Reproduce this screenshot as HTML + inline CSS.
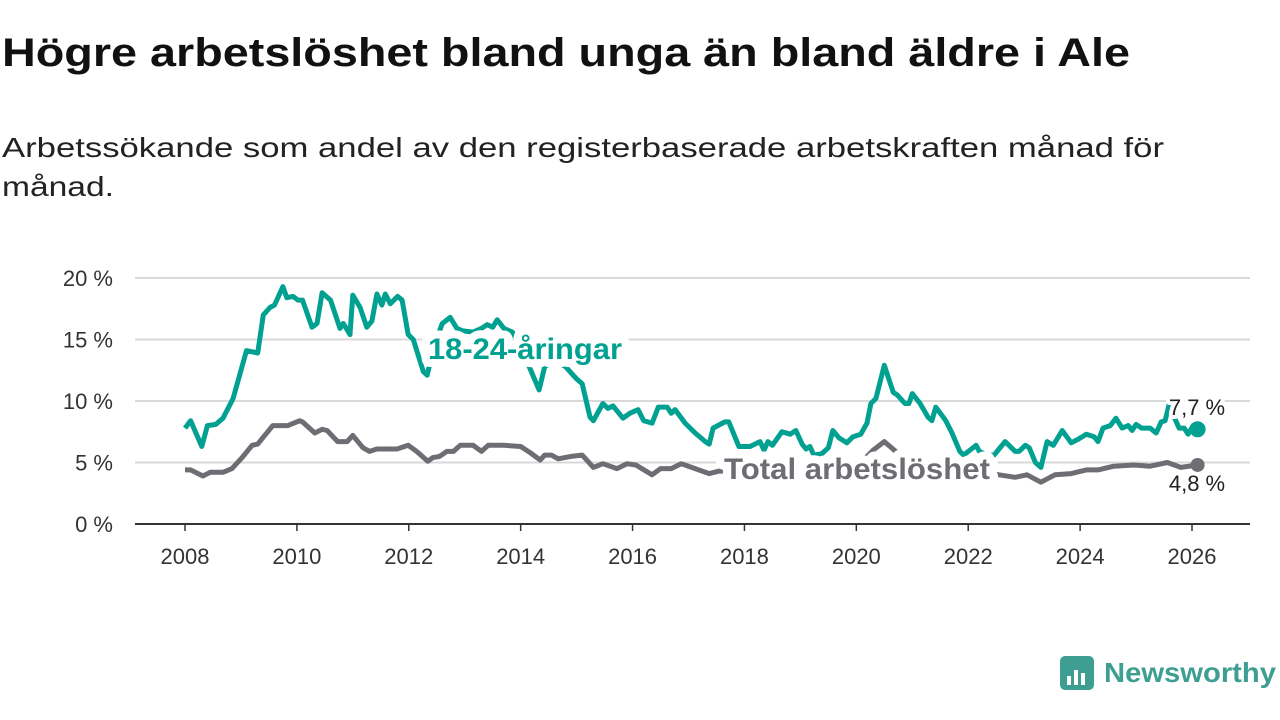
<!DOCTYPE html>
<html><head><meta charset="utf-8">
<style>
html,body{margin:0;padding:0;background:#fff;width:1280px;height:720px;overflow:hidden;font-family:"Liberation Sans",sans-serif}
svg{display:block}
</style></head>
<body>
<svg width="1280" height="720" viewBox="0 0 1280 720" id="chart">
<text x="2" y="66" font-size="40" font-weight="bold" fill="#111" textLength="1128" lengthAdjust="spacingAndGlyphs">Högre arbetslöshet bland unga än bland äldre i Ale</text>
<text x="2" y="157" font-size="28" fill="#222" textLength="1162" lengthAdjust="spacingAndGlyphs">Arbetssökande som andel av den registerbaserade arbetskraften månad för</text>
<text x="2" y="196" font-size="28" fill="#222" textLength="112" lengthAdjust="spacingAndGlyphs">månad.</text>
<g id="grid"></g><g id="axes"></g><g id="lines"></g><g id="labels"></g>
<g>
<rect x="1060" y="656" width="34" height="34" rx="5" fill="#3e9e91"/>
<rect x="1067" y="676" width="4" height="9" fill="#fff"/><rect x="1074" y="670" width="4" height="15" fill="#fff"/><rect x="1081" y="673" width="4" height="12" fill="#fff"/>
<text x="1104" y="682" font-size="28" fill="#3e9e91" font-weight="bold" textLength="172" lengthAdjust="spacingAndGlyphs">Newsworthy</text>
</g>
</svg>
<script>
const yTicks=[0,5,10,15,20];
const yTickLabels=["0 %","5 %","10 %","15 %","20 %"];
const xTicks=[2008,2010,2012,2014,2016,2018,2020,2022,2024,2026];
const youthDates=[2008.0,2008.1,2008.3,2008.4,2008.55,2008.68,2008.86,2009.1,2009.3,2009.4,2009.52,2009.6,2009.75,2009.82,2009.93,2010.02,2010.1,2010.27,2010.36,2010.45,2010.6,2010.77,2010.83,2010.95,2011.0,2011.13,2011.25,2011.34,2011.43,2011.52,2011.58,2011.67,2011.8,2011.88,2011.99,2012.08,2012.26,2012.33,2012.45,2012.6,2012.74,2012.86,2012.97,2013.15,2013.3,2013.4,2013.5,2013.58,2013.7,2013.85,2014.0,2014.17,2014.33,2014.43,2014.6,2014.8,2015.0,2015.1,2015.24,2015.3,2015.47,2015.56,2015.65,2015.83,2015.95,2016.1,2016.2,2016.35,2016.46,2016.62,2016.69,2016.76,2016.94,2017.12,2017.3,2017.37,2017.44,2017.65,2017.72,2017.9,2018.1,2018.28,2018.35,2018.42,2018.5,2018.67,2018.82,2018.92,2019.03,2019.1,2019.17,2019.24,2019.38,2019.5,2019.58,2019.69,2019.83,2019.94,2020.08,2020.19,2020.26,2020.35,2020.5,2020.66,2020.73,2020.87,2020.94,2021.0,2021.14,2021.28,2021.35,2021.42,2021.6,2021.71,2021.85,2021.92,2022.14,2022.2,2022.33,2022.46,2022.66,2022.84,2022.91,2023.02,2023.09,2023.2,2023.3,2023.41,2023.52,2023.68,2023.84,2023.97,2024.11,2024.25,2024.32,2024.41,2024.54,2024.64,2024.75,2024.86,2024.93,2025.0,2025.1,2025.25,2025.36,2025.45,2025.52,2025.59,2025.7,2025.77,2025.86,2025.93,2026.02,2026.1];
const youthValues=[7.8,8.4,6.3,8.0,8.1,8.6,10.2,14.1,13.9,17.0,17.6,17.8,19.3,18.4,18.5,18.2,18.2,16.0,16.3,18.8,18.2,15.9,16.3,15.4,18.6,17.6,16.0,16.5,18.7,17.8,18.7,17.9,18.5,18.2,15.4,15.0,12.4,12.1,14.5,16.3,16.8,15.9,15.7,15.6,15.9,16.2,16.0,16.6,15.9,15.6,14.5,12.6,10.9,12.8,13.3,12.8,11.8,11.4,8.7,8.4,9.8,9.4,9.6,8.6,9.0,9.3,8.4,8.2,9.5,9.5,9.0,9.3,8.2,7.4,6.7,6.5,7.8,8.3,8.3,6.3,6.3,6.7,6.0,6.7,6.4,7.5,7.3,7.6,6.5,6.1,6.3,5.6,5.7,6.2,7.6,7.0,6.6,7.1,7.3,8.2,9.8,10.2,12.9,10.7,10.5,9.8,9.8,10.6,9.8,8.7,8.4,9.5,8.4,7.4,5.9,5.6,6.4,5.9,5.6,5.6,6.7,5.9,5.9,6.4,6.2,5.0,4.6,6.7,6.4,7.6,6.6,6.9,7.3,7.1,6.7,7.8,8.0,8.6,7.8,8.0,7.6,8.1,7.8,7.8,7.4,8.3,8.4,9.7,8.5,7.8,7.8,7.3,8.0,7.7];
const totalDates=[2008.0,2008.1,2008.32,2008.45,2008.68,2008.84,2009.02,2009.2,2009.3,2009.57,2009.84,2010.05,2010.1,2010.32,2010.45,2010.54,2010.73,2010.9,2011.0,2011.18,2011.3,2011.43,2011.79,2011.99,2012.14,2012.34,2012.43,2012.55,2012.68,2012.8,2012.92,2013.15,2013.3,2013.42,2013.7,2014.0,2014.17,2014.35,2014.43,2014.55,2014.67,2014.9,2015.1,2015.3,2015.47,2015.72,2015.9,2016.06,2016.35,2016.5,2016.69,2016.87,2017.12,2017.37,2017.55,2017.8,2018.1,2018.5,2018.9,2019.3,2019.7,2020.0,2020.3,2020.5,2020.73,2020.95,2021.3,2021.6,2021.9,2022.2,2022.55,2022.84,2023.05,2023.3,2023.55,2023.84,2024.11,2024.32,2024.6,2024.96,2025.25,2025.56,2025.8,2026.1];
const totalValues=[4.4,4.4,3.9,4.2,4.2,4.5,5.4,6.4,6.5,8.0,8.0,8.4,8.3,7.4,7.7,7.6,6.7,6.7,7.2,6.2,5.9,6.1,6.1,6.4,5.9,5.1,5.4,5.5,5.9,5.9,6.4,6.4,5.9,6.4,6.4,6.3,5.8,5.2,5.6,5.6,5.3,5.5,5.6,4.6,4.9,4.5,4.9,4.8,4.0,4.5,4.5,4.9,4.5,4.1,4.3,4.3,4.2,4.4,4.2,4.0,4.3,4.6,6.0,6.7,5.8,5.6,5.3,5.0,4.6,4.3,4.0,3.8,4.0,3.4,4.0,4.1,4.4,4.4,4.7,4.8,4.7,5.0,4.6,4.8];
const NS="http://www.w3.org/2000/svg";
const x=v=>185+(v-2008)*(1007/18);
const y=v=>524-v*12.3;
function mk(tag,attrs,parent){const e=document.createElementNS(NS,tag);for(const k in attrs)e.setAttribute(k,attrs[k]);parent.appendChild(e);return e;}
const grid=document.getElementById('grid'),axes=document.getElementById('axes'),lines=document.getElementById('lines'),labels=document.getElementById('labels');
yTicks.forEach((t,i)=>{
  if(t>0){const g=mk('line',{x1:135,x2:1250,y1:y(t),y2:y(t),stroke:'#d9d9d9','stroke-width':2},grid);
  
  }
  const tx=mk('text',{x:113,y:y(t)+8,'font-size':22,fill:'#333','text-anchor':'end'},axes);
  
  
  tx.textContent=yTickLabels[i];
});
const ax=mk('line',{x1:135,x2:1250,y1:524,y2:524,stroke:'#333','stroke-width':2},axes);


xTicks.forEach(t=>{
  const tk=mk('line',{x1:x(t),x2:x(t),y1:524,y2:531,stroke:'#333','stroke-width':1.5},axes);
  
  
  const tx=mk('text',{x:x(t),y:564,'font-size':22,fill:'#333','text-anchor':'middle'},axes);
  
  
  tx.textContent=t;
});
function path(d,v){return d.map((t,i)=>(i?'L':'M')+x(t).toFixed(1)+','+y(v[i]).toFixed(1)).join('');}
const pt=mk('path',{d:path(totalDates,totalValues),fill:'none',stroke:'#6e6d73','stroke-width':5,'stroke-linejoin':'round'},lines);


const py=mk('path',{d:path(youthDates,youthValues),fill:'none',stroke:'#00a191','stroke-width':5,'stroke-linejoin':'round'},lines);


const dt=mk('circle',{cx:x(totalDates[totalDates.length-1]),cy:y(totalValues[totalValues.length-1]),r:7,fill:'#6e6d73'},lines);


const dy=mk('circle',{cx:x(youthDates[youthDates.length-1]),cy:y(youthValues[youthValues.length-1]),r:8,fill:'#00a191'},lines);


function lab(txt,xx,yy,size,fill,bold,anchor,name,len,sw){
  const a={x:xx,y:yy,'font-size':size,fill:fill,'font-weight':bold?'bold':'normal','text-anchor':anchor,stroke:'#fff','stroke-width':sw,'paint-order':'stroke','stroke-linejoin':'round'};
  if(len){a.textLength=len;a.lengthAdjust='spacingAndGlyphs';}
  const t=mk('text',a,labels);
  
  
  t.textContent=txt;return t;}
lab('18-24-åringar',525,359,30,'#00a191',true,'middle','youth-series-label',194,16);
lab('Total arbetslöshet',857,479,30,'#6e6d73',true,'middle','total-series-label',266,16);
lab('7,7 %',1197,415,22,'#222',false,'middle','youth-end-value',0,8);
lab('4,8 %',1197,491,22,'#222',false,'middle','total-end-value',0,8);
</script>
</body></html>
